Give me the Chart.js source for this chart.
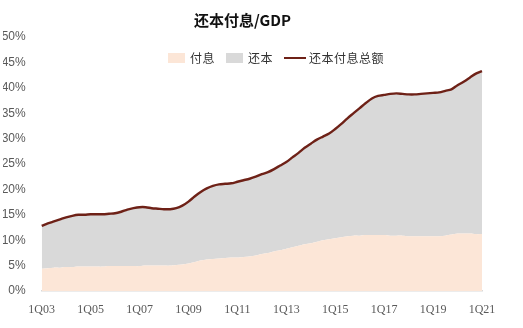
<!DOCTYPE html>
<html>
<head>
<meta charset="utf-8">
<script src="https://cdn.jsdelivr.net/npm/chart.js@4/dist/chart.umd.min.js"></script>
<style>
  html, body { margin: 0; padding: 0; background: #fff; }
  #wrap { position: relative; width: 523px; height: 328px; }
  #legend {
    position: absolute; left: 168px; top: 49px;
    display: flex; align-items: center;
    font: 12px "Noto Sans CJK SC", sans-serif; color: #333; letter-spacing: 0.5px;
  }
  #legend .item { display: flex; align-items: center; margin-right: 11px; }
  #legend .swatch { width: 17px; height: 10px; margin-right: 5px; }
  #legend .line { width: 22px; height: 2px; margin-right: 3px; }
</style>
</head>
<body>
<div id="wrap">
  <canvas id="chart" width="523" height="328"></canvas>
  <div id="legend"></div>
</div>
<script>
// quarters 1Q03 .. 1Q21
const quarters = [
  '1Q03','2Q03','3Q03','4Q03','1Q04','2Q04','3Q04','4Q04',
  '1Q05','2Q05','3Q05','4Q05','1Q06','2Q06','3Q06','4Q06',
  '1Q07','2Q07','3Q07','4Q07','1Q08','2Q08','3Q08','4Q08',
  '1Q09','2Q09','3Q09','4Q09','1Q10','2Q10','3Q10','4Q10',
  '1Q11','2Q11','3Q11','4Q11','1Q12','2Q12','3Q12','4Q12',
  '1Q13','2Q13','3Q13','4Q13','1Q14','2Q14','3Q14','4Q14',
  '1Q15','2Q15','3Q15','4Q15','1Q16','2Q16','3Q16','4Q16',
  '1Q17','2Q17','3Q17','4Q17','1Q18','2Q18','3Q18','4Q18',
  '1Q19','2Q19','3Q19','4Q19','1Q20','2Q20','3Q20','4Q20',
  '1Q21'
];

// 付息 (interest, % of GDP)
const interest = [
  4.4, 4.5, 4.6, 4.6, 4.7, 4.7, 4.8, 4.8,
  4.8, 4.8, 4.8, 4.9, 4.9, 4.9, 4.9, 4.9,
  4.9, 5.0, 5.0, 5.0, 5.0, 5.0, 5.1, 5.2,
  5.4, 5.7, 6.0, 6.2, 6.3, 6.4, 6.5, 6.6,
  6.6, 6.7, 6.8, 7.0, 7.3, 7.5, 7.8, 8.0,
  8.3, 8.6, 8.9, 9.2, 9.4, 9.7, 10.0, 10.2,
  10.4, 10.6, 10.8, 10.9, 10.9, 11.0, 11.0, 11.0,
  11.0, 10.9, 10.9, 10.9, 10.8, 10.8, 10.8, 10.8,
  10.8, 10.8, 10.9, 11.1, 11.3, 11.3, 11.3, 11.2,
  11.2
];

// 还本付息总额 (total debt service, % of GDP)
const total = [
  12.8, 13.3, 13.7, 14.1, 14.5, 14.8, 15.0, 15.0,
  15.1, 15.1, 15.1, 15.2, 15.3, 15.6, 16.0, 16.3,
  16.5, 16.5, 16.3, 16.2, 16.1, 16.1, 16.3, 16.8,
  17.6, 18.6, 19.5, 20.2, 20.7, 21.0, 21.1, 21.2,
  21.5, 21.8, 22.1, 22.5, 23.0, 23.4, 24.0, 24.7,
  25.4, 26.3, 27.2, 28.2, 29.0, 29.8, 30.4, 31.0,
  31.9, 32.9, 34.0, 35.0, 36.0, 37.0, 37.9, 38.4,
  38.6, 38.8, 38.9, 38.8, 38.7, 38.7, 38.8, 38.9,
  39.0, 39.1, 39.4, 39.7, 40.5, 41.2, 42.0, 42.8,
  43.3
];

const yTicks = [0, 5, 10, 15, 20, 25, 30, 35, 40, 45, 50];

const PEACH = '#FCE6D7';
const GRAY = '#D9D9D9';
const MAROON = '#6E2117';

const ctx = document.getElementById('chart');
const chart = new Chart(ctx, {
  type: 'line',
  data: {
    labels: quarters,
    datasets: [
      {
        label: '付息',
        data: interest,
        borderWidth: 0,
        backgroundColor: PEACH,
        fill: 'origin',
        pointRadius: 0,
        tension: 0.3
      },
      {
        label: '还本',
        data: total,
        borderWidth: 0,
        backgroundColor: GRAY,
        fill: '-1',
        pointRadius: 0,
        tension: 0.3
      },
      {
        label: '还本付息总额',
        data: total,
        borderColor: MAROON,
        borderWidth: 2.4,
        fill: false,
        pointRadius: 0,
        tension: 0.3,
        order: -1
      }
    ]
  },
  options: {
    responsive: false,
    animation: false,
    layout: { padding: { left: 3, right: 41, bottom: 0 } },
    plugins: {
      legend: { display: false },
      tooltip: { enabled: false },
      title: {
        display: true,
        text: '还本付息/GDP',
        color: '#111',
        font: { family: '"Noto Sans CJK SC", sans-serif', size: 15, weight: 'bold' },
        padding: { top: 11, bottom: 8 }
      }
    },
    scales: {
      x: {
        grid: { display: false, drawTicks: false },
        border: { display: true, color: GRAY, width: 1.5 },
        afterFit: axis => { axis.height = 37; },
        ticks: {
          autoSkip: false,
          maxRotation: 0,
          padding: 12,
          color: '#595959',
          font: { family: '"Liberation Serif", serif', size: 12 },
          callback: (v, i) => (i % 8 === 0 ? quarters[i] : '')
        }
      },
      y: {
        min: 0,
        max: 50,
        afterBuildTicks: axis => { axis.ticks = yTicks.map(v => ({ value: v })); },
        afterFit: axis => { axis.width = 38.7; },
        grid: { display: false, drawTicks: false },
        border: { display: false },
        ticks: {
          padding: 16,
          color: '#595959',
          font: { family: '"Liberation Sans", sans-serif', size: 12 },
          callback: v => v + '%'
        }
      }
    }
  }
});

// legend drawn over the plot, like the original
const legendEl = document.getElementById('legend');
chart.data.datasets.forEach((ds, i) => {
  const item = document.createElement('div');
  item.className = 'item';
  const mark = document.createElement('span');
  if (i === 2) {
    mark.className = 'line';
    mark.style.background = ds.borderColor;
  } else {
    mark.className = 'swatch';
    mark.style.background = ds.backgroundColor;
  }
  const txt = document.createElement('span');
  txt.textContent = ds.label;
  item.appendChild(mark);
  item.appendChild(txt);
  legendEl.appendChild(item);
});
</script>
</body>
</html>
